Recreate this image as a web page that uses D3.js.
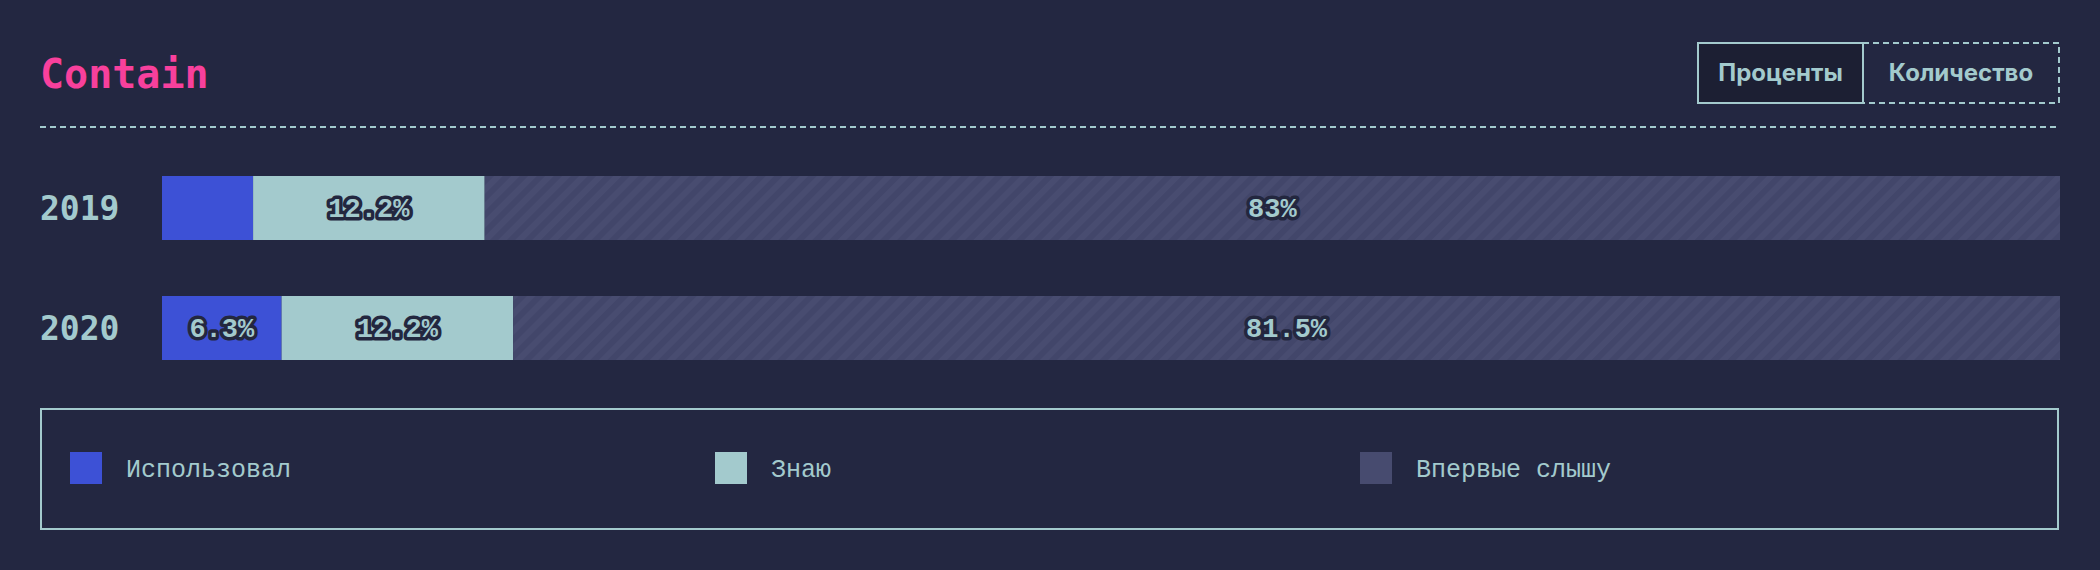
<!DOCTYPE html>
<html>
<head>
<meta charset="utf-8">
<script src="https://cdn.jsdelivr.net/npm/d3@7"></script>
<style>
  html, body { margin: 0; padding: 0; background: #232741; }
  svg { display: block; }
</style>
</head>
<body>
<svg id="chart"></svg>
<script>
// data
const years = ["2019", "2020"];
const usedPct = [4.8, 6.3];
const knowPct = [12.2, 12.2];
const neverPct = [83, 81.5];
const seriesNames = ["Использовал", "Знаю", "Впервые слышу"];
const seriesColors = ["#3d51d6", "#a3cacd", "url(#hatch)"];
const swatchColors = ["#3d51d6", "#a3cacd", "#474b6f"];
const buttonLabels = ["Проценты", "Количество"];

const W = 2100, H = 570;
const mono = "'DejaVu Sans Mono', 'Liberation Mono', monospace";
const teal = "#a3cacd";

const svg = d3.select("#chart").attr("width", W).attr("height", H);

const defs = svg.append("defs");
const pat = defs.append("pattern").attr("id", "hatch").attr("patternUnits", "userSpaceOnUse")
  .attr("width", 12).attr("height", 12).attr("patternTransform", "rotate(45)");
pat.append("rect").attr("width", 12).attr("height", 12).attr("fill", "#484c70");
pat.append("line").attr("x1", 3).attr("y1", 0).attr("x2", 3).attr("y2", 12)
  .attr("stroke", "#42466a").attr("stroke-width", 6);

// title
svg.append("text").attr("x", 40).attr("y", 88)
  .style("font-family", mono).style("font-size", "40px").style("font-weight", "bold")
  .attr("fill", "#f8409c").text("Contain");

// toggle buttons
const btnX = d3.scaleOrdinal().domain(buttonLabels).range([1698, 1863]);
const btnW = d3.scaleOrdinal().domain(buttonLabels).range([165, 196]);
const btn = svg.selectAll(".btn").data(buttonLabels).enter().append("g").attr("class", "btn");
btn.append("rect").attr("x", d => btnX(d)).attr("y", 43).attr("width", d => btnW(d)).attr("height", 60)
  .attr("fill", (d, i) => i === 0 ? "#1c1f33" : "none")
  .attr("stroke", teal).attr("stroke-width", 2)
  .attr("stroke-dasharray", (d, i) => i === 0 ? null : "6,4");
btn.append("text").attr("x", d => btnX(d) + btnW(d) / 2).attr("y", 81).attr("text-anchor", "middle")
  .style("font-family", "Inter, Roboto, sans-serif").style("font-size", "24px").style("font-weight", "700")
  .attr("fill", teal).text(d => d);

// dashed separator
svg.append("line").attr("x1", 40).attr("x2", 2060).attr("y1", 127).attr("y2", 127)
  .attr("stroke", teal).attr("stroke-width", 2).attr("stroke-dasharray", "6,4");

// scales
const x = d3.scaleLinear().domain([0, 100]).range([162, 2060]);
const y = d3.scaleBand().domain(years).range([176, 360]).paddingInner(56 / 120).paddingOuter(0);

const rows = years.map((yr, i) => {
  const vals = [usedPct[i], knowPct[i], neverPct[i]];
  let acc = 0;
  return vals.map((v, k) => { const s = { year: yr, k, v, x0: acc, x1: acc + v }; acc += v; return s; });
});
const segs = rows.flat();

// year labels
svg.selectAll(".year").data(years).enter().append("text").attr("class", "year")
  .attr("x", 40).attr("y", d => y(d) + y.bandwidth() / 2 + 12)
  .style("font-family", mono).style("font-size", "33px").style("font-weight", "bold")
  .attr("fill", teal).text(d => d);

// bars
svg.selectAll(".seg").data(segs).enter().append("rect").attr("class", "seg")
  .attr("x", d => x(d.x0)).attr("y", d => y(d.year))
  .attr("width", d => x(d.x1) - x(d.x0)).attr("height", y.bandwidth())
  .attr("fill", d => seriesColors[d.k]);

// value labels (skip narrow segments)
svg.selectAll(".val").data(segs.filter(d => d.v >= 5)).enter().append("text").attr("class", "val")
  .attr("x", d => x((d.x0 + d.x1) / 2)).attr("y", d => y(d.year) + y.bandwidth() / 2 + 9)
  .attr("text-anchor", "middle")
  .style("font-family", "'Liberation Mono', monospace").style("font-size", "27px").style("font-weight", "bold")
  .style("paint-order", "stroke").attr("stroke", "#23273f").attr("stroke-width", 7)
  .attr("stroke-linejoin", "round")
  .attr("fill", teal).text(d => d.v + "%");

// legend
svg.append("rect").attr("x", 41).attr("y", 409).attr("width", 2017).attr("height", 120)
  .attr("fill", "none").attr("stroke", teal).attr("stroke-width", 2);
const lx = d3.scaleBand().domain(seriesNames).range([70, 2005]);
const lg = svg.selectAll(".leg").data(seriesNames).enter().append("g").attr("class", "leg");
lg.append("rect").attr("x", d => lx(d)).attr("y", 452).attr("width", 32).attr("height", 32)
  .attr("fill", (d, i) => swatchColors[i]);
lg.append("text").attr("x", d => lx(d) + 56).attr("y", 477)
  .style("font-family", "'Liberation Mono', monospace").style("font-size", "25px").style("font-weight", "300")
  .attr("fill", teal).text(d => d);
</script>
</body>
</html>
